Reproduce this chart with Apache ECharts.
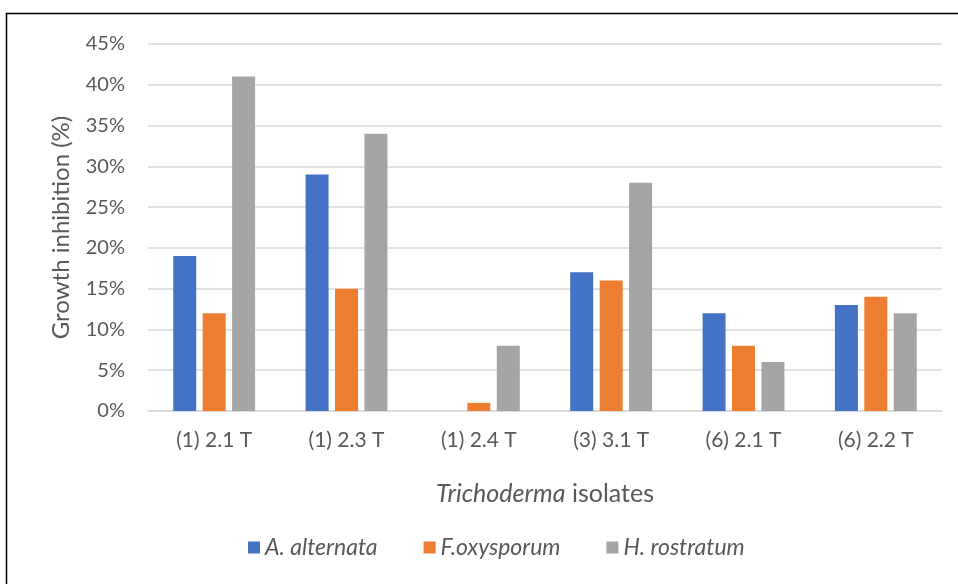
<!DOCTYPE html>
<html>
<head>
<meta charset="utf-8">
<script src="https://cdn.jsdelivr.net/npm/echarts@6/dist/echarts.min.js"></script>
<style>
  html, body { margin: 0; padding: 0; background: #fff; }
  #chart { width: 958px; height: 584px; }
</style>
</head>
<body>
<div id="chart"></div>
<script>
// Isolates on the x axis
const isolates = ['(1) 2.1 T', '(1) 2.3 T', '(1) 2.4 T', '(3) 3.1 T', '(6) 2.1 T', '(6) 2.2 T'];
// Growth inhibition (%) per pathogen
const alternata = [19, 29, 0, 17, 12, 13];
const oxysporum = [12, 15, 1, 16, 8, 14];
const rostratum = [41, 34, 8, 28, 6, 12];
const seriesNames = ['A. alternata', 'F.oxysporum', 'H. rostratum'];
const seriesColors = ['#4472c4', '#ed7d31', '#a5a5a5'];

const font = 'Lato, "Open Sans", sans-serif';
const chart = echarts.init(document.getElementById('chart'), null, { renderer: 'canvas' });

const values = [alternata, oxysporum, rostratum];
chart.setOption({
  animation: false,
  backgroundColor: '#fff',
  textStyle: { fontFamily: font },
  graphic: [{
    type: 'rect',
    shape: { x: 6.5, y: 13.5, width: 1200, height: 1200 },
    style: { fill: 'none', stroke: '#000', lineWidth: 1.5 },
    silent: true
  }],
  grid: { left: 148, right: 16, top: 44, bottom: 173 },
  legend: {
    bottom: 20,
    left: 243,
    itemWidth: 12,
    itemHeight: 12,
    itemGap: 46,
    itemTextGap: 7,
    icon: 'rect',
    textStyle: { fontSize: 23, fontStyle: 'italic', color: '#595959', fontFamily: font },
    data: seriesNames
  },
  xAxis: {
    type: 'category',
    data: isolates,
    axisLine: { lineStyle: { color: '#d9d9d9', width: 1.5 } },
    axisTick: { show: false },
    axisLabel: { fontSize: 21, color: '#595959', margin: 19, fontFamily: font },
    name: '{i|Trichoderma} isolates',
    nameLocation: 'middle',
    nameGap: 70,
    nameTextStyle: {
      fontSize: 25, color: '#595959', fontFamily: font,
      rich: { i: { fontSize: 25, fontStyle: 'italic', color: '#595959', fontFamily: font } }
    }
  },
  yAxis: {
    type: 'value',
    min: 0, max: 45, interval: 5,
    axisLabel: { fontSize: 20, color: '#595959', margin: 23, fontFamily: font, formatter: v => v + '%' },
    splitLine: { lineStyle: { color: '#d9d9d9', width: 1.5 } },
    axisLine: { show: false },
    axisTick: { show: false },
    name: 'Growth inhibition (%)',
    nameLocation: 'middle',
    nameGap: 75,
    nameTextStyle: { fontSize: 24, color: '#595959', fontFamily: font }
  },
  series: seriesNames.map((n, i) => ({
    name: n,
    type: 'bar',
    data: values[i],
    barWidth: 23,
    barGap: '28%',
    itemStyle: { color: seriesColors[i] }
  }))
});
</script>
</body>
</html>
